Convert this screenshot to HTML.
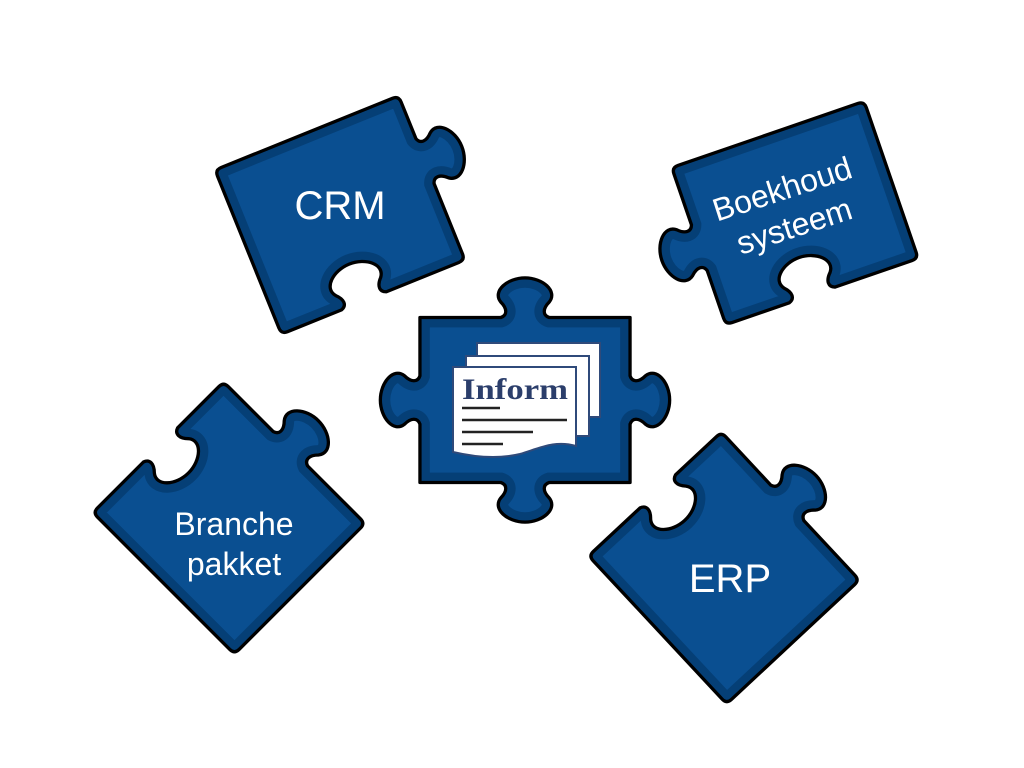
<!DOCTYPE html>
<html><head><meta charset="utf-8"><style>
html,body{margin:0;padding:0;background:#fff;width:1024px;height:768px;overflow:hidden}
svg{display:block}
.t{font-family:"Liberation Sans",sans-serif;fill:#fff;text-anchor:middle}
</style></head><body>
<svg width="1024" height="768" viewBox="0 0 1024 768" xmlns="http://www.w3.org/2000/svg">
<defs>
<path id="pc" d="M0,0 h73.5 c6,-2 6,-8 0,-14 c-8,-10 6,-22 22,-22 c16,0 30,12 22,22 c-6,6 -6,12 0,14 h73.5 v53 c2,6 8,6 14,0 c10,-8 22,6 22,22 c0,16 -12,30 -22,22 c-6,-6 -12,-6 -14,0 v53 h-73.5 c-6,2 -6,8 0,14 c8,10 -6,22 -22,22 c-16,0 -30,-12 -22,-22 c6,-6 6,-12 0,-14 h-73.5 v-53 c-2,-6 -8,-6 -14,0 c-10,8 -22,-6 -22,-22 c0,-16 12,-30 22,-22 c6,6 12,6 14,0 z"/>
<path id="pcrm" d="M6,0 h168 q6,0 6,6 v36 c2,6 8,6 14,0 c10,-8 22,6 22,22 c0,16 -12,30 -22,22 c-6,-6 -12,-6 -14,0 v69 q0,6 -6,6 h-71 c-6,-2 -6,-8 0,-14 c8,-10 -6,-22 -22,-22 c-16,0 -30,12 -22,22 c6,6 6,12 0,14 h-53 q-6,0 -6,-6 v-149 q0,-6 6,-6 z"/>
<path id="pboek" d="M6,0 h173 q6,0 6,6 v139 q0,6 -6,6 h-74 c-6,-2 -6,-8 0,-14 c8,-10 -6,-22 -22,-22 c-16,0 -30,12 -22,22 c6,6 6,12 0,14 h-55 q-6,0 -6,-6 v-46 c-2,-6 -8,-6 -14,0 c-10,8 -22,-6 -22,-22 c0,-16 12,-30 22,-22 c6,6 12,6 14,0 v-49 q0,-6 6,-6 z"/>
<path id="pbr" d="M6,0 h59 c6,2 6,8 0,14 c-8,10 6,22 22,22 c16,0 30,-12 22,-22 c-6,-6 -6,-12 0,-14 h53 q6,0 6,6 v58 c2,6 8,6 14,0 c10,-8 22,6 22,22 c0,16 -12,30 -22,22 c-6,-6 -12,-6 -14,0 v68 q0,6 -6,6 h-156 q-6,0 -6,-6 v-170 q0,-6 6,-6 z"/>
<path id="perp" d="M6,0 h58 c6,2 6,8 0,14 c-8,10 6,22 22,22 c16,0 30,-12 22,-22 c-6,-6 -6,-12 0,-14 h51 q6,0 6,6 v60 c2,6 8,6 14,0 c10,-8 22,6 22,22 c0,16 -12,30 -22,22 c-6,-6 -12,-6 -14,0 v68 q0,6 -6,6 h-153 q-6,0 -6,-6 v-172 q0,-6 6,-6 z"/>
<clipPath id="cc"><use href="#pc"/></clipPath>
<clipPath id="ccrm"><use href="#pcrm"/></clipPath>
<clipPath id="cboek"><use href="#pboek"/></clipPath>
<clipPath id="cbr"><use href="#pbr"/></clipPath>
<clipPath id="cerp"><use href="#perp"/></clipPath>
</defs>

<g transform="translate(340,215) rotate(-22) scale(1.1) translate(-90,-80.5)">
<use href="#pcrm" fill="#0a4f91"/>
<use href="#pcrm" fill="none" stroke="#053f76" stroke-width="18" clip-path="url(#ccrm)"/>
<use href="#pcrm" fill="none" stroke="#000" stroke-width="3" stroke-linejoin="round"/>
</g>
<g transform="translate(795,213) rotate(-19) scale(1.1) translate(-92.5,-75.5)">
<use href="#pboek" fill="#0a4f91"/>
<use href="#pboek" fill="none" stroke="#053f76" stroke-width="18" clip-path="url(#cboek)"/>
<use href="#pboek" fill="none" stroke="#000" stroke-width="3" stroke-linejoin="round"/>
</g>
<g transform="translate(229,518) rotate(-45) scale(1.1) translate(-84,-91)">
<use href="#pbr" fill="#0a4f91"/>
<use href="#pbr" fill="none" stroke="#053f76" stroke-width="18" clip-path="url(#cbr)"/>
<use href="#pbr" fill="none" stroke="#000" stroke-width="3" stroke-linejoin="round"/>
</g>
<g transform="translate(724,568) rotate(-43) scale(1.1) translate(-82.5,-92)">
<use href="#perp" fill="#0a4f91"/>
<use href="#perp" fill="none" stroke="#053f76" stroke-width="18" clip-path="url(#cerp)"/>
<use href="#perp" fill="none" stroke="#000" stroke-width="3" stroke-linejoin="round"/>
</g>
<g transform="translate(525,400) scale(1.1) translate(-95.5,-75)">
<use href="#pc" fill="#0a4f91"/>
<use href="#pc" fill="none" stroke="#053f76" stroke-width="18" clip-path="url(#cc)"/>
<use href="#pc" fill="none" stroke="#000" stroke-width="3" stroke-linejoin="round"/>
</g>

<rect x="477" y="343" width="123" height="74" fill="#fff" stroke="#2f4a7a" stroke-width="2"/>
<rect x="466" y="356" width="123" height="80" fill="#fff" stroke="#2f4a7a" stroke-width="2"/>
<path d="M453,367 H576 V446 C555,440 540,448 520,454 C495,460 470,456 453,452 Z" fill="#fff" stroke="#2f4a7a" stroke-width="2"/>
<text x="462" y="399" font-family="'Liberation Serif',serif" font-weight="bold" font-size="30" textLength="106" lengthAdjust="spacingAndGlyphs" fill="#2b3e6b">Inform</text>
<g stroke="#222" stroke-width="2.5">
<line x1="462" y1="408" x2="500" y2="408"/>
<line x1="462" y1="420" x2="567" y2="420"/>
<line x1="462" y1="432" x2="533" y2="432"/>
<line x1="462" y1="444" x2="503" y2="444"/>
</g>

<text class="t" x="340" y="219" font-size="40">CRM</text>
<g transform="translate(788,207) rotate(-18)">
<text class="t" x="0" y="-8" font-size="32">Boekhoud</text>
<text class="t" x="0" y="31" font-size="32">systeem</text>
</g>
<text class="t" x="234" y="535" font-size="32">Branche</text>
<text class="t" x="234" y="575" font-size="32">pakket</text>
<text class="t" x="730" y="592" font-size="40">ERP</text>
</svg>
</body></html>
